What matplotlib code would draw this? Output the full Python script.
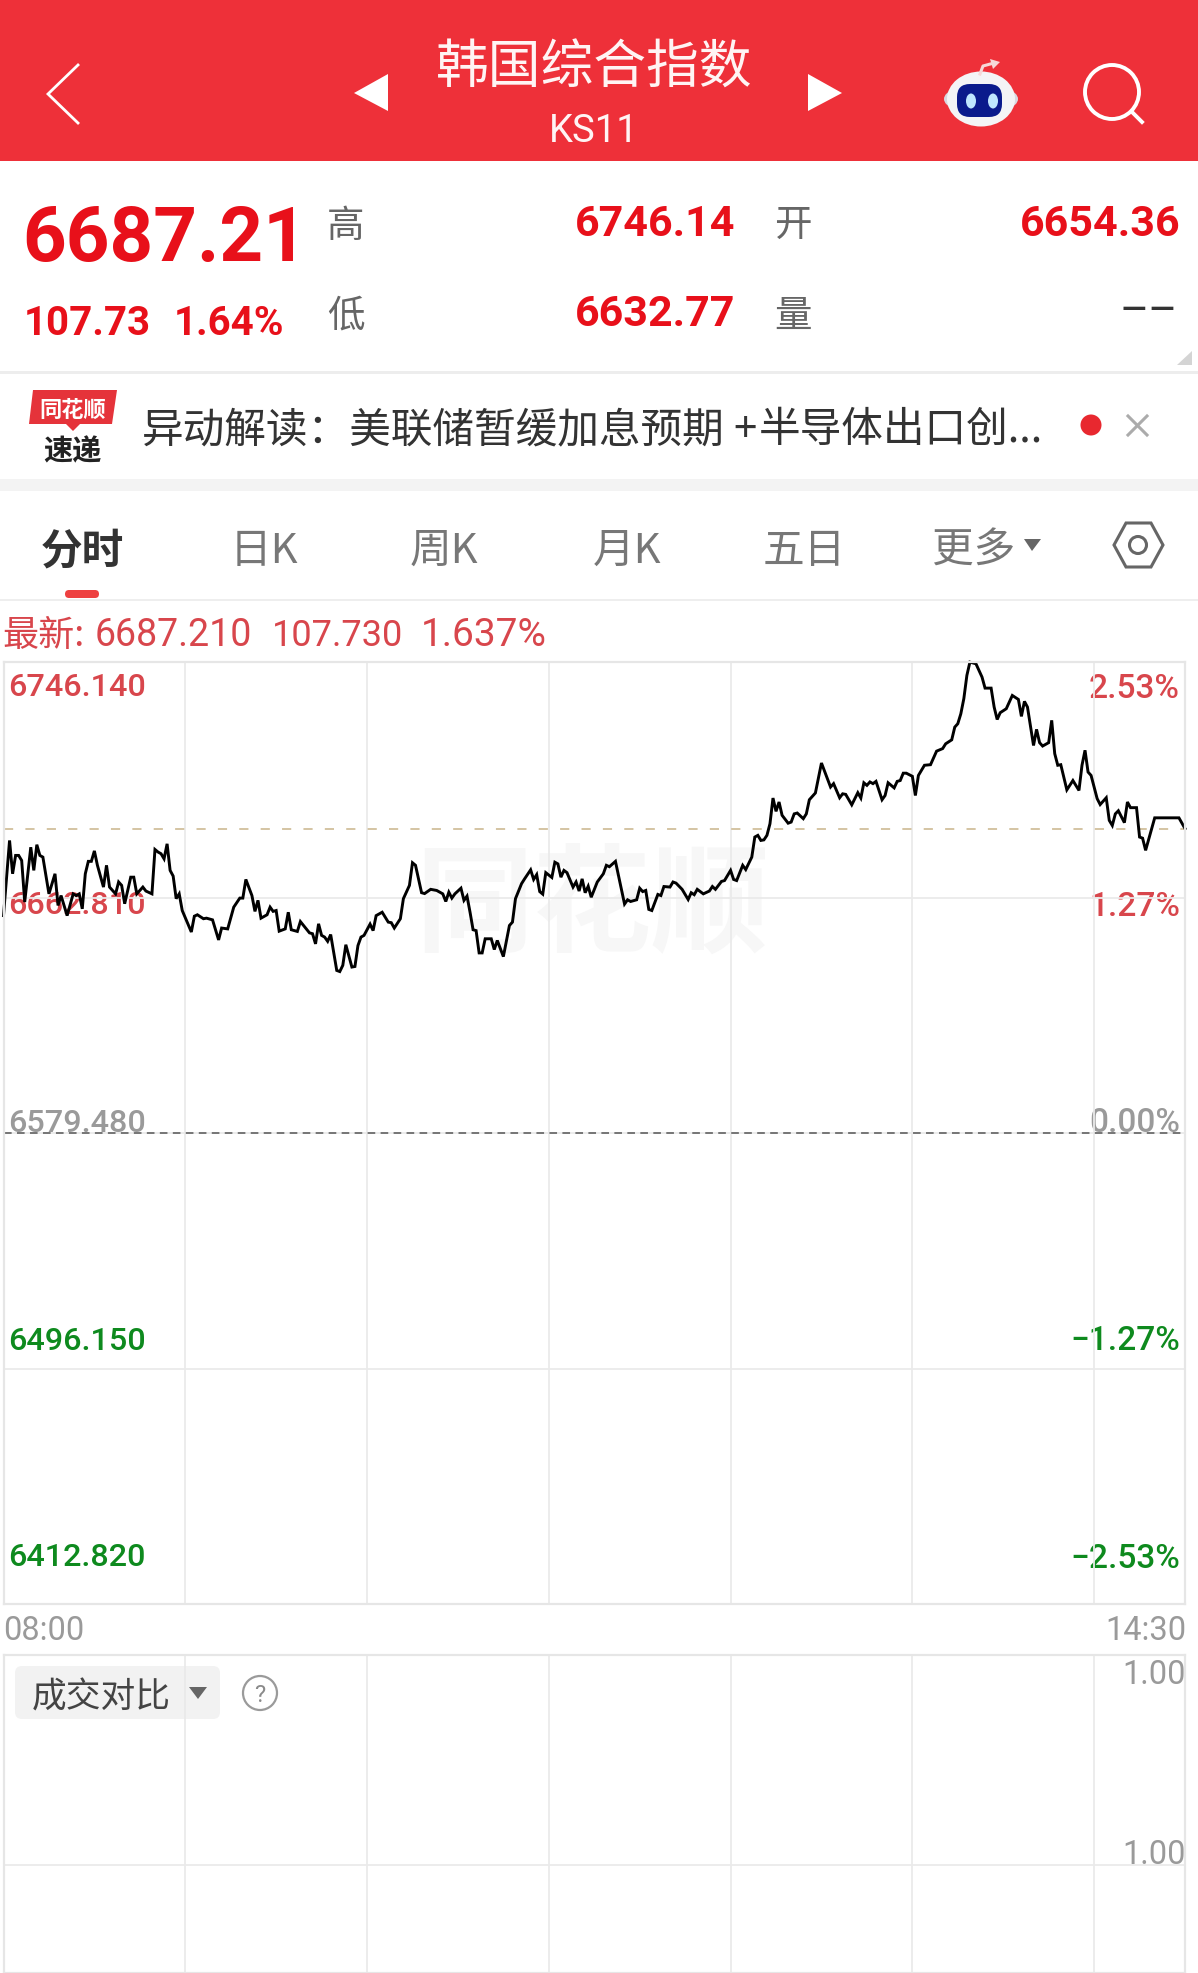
import matplotlib
matplotlib.use('Agg')
import matplotlib.pyplot as plt
from matplotlib.patches import Circle, Ellipse, FancyBboxPatch, Polygon, Rectangle

W, H = 1198, 1974
CJK = ['Noto Sans CJK SC', 'DejaVu Sans']
NUM = ['Roboto', 'Noto Sans CJK SC']

# intraday index, minutes after 08:00 and price
minutes = [
    0, 2, 3, 4, 5, 6, 7, 9, 10, 11, 12, 13, 15, 17, 18, 19, 21, 23, 24, 25, 26, 27, 28, 29, 30, 31,
    33, 34, 35, 37, 38, 39, 40, 42, 43, 44, 46, 47, 49, 50, 51, 52, 53, 54, 55, 56, 57, 58, 59, 62,
    63, 64, 66, 67, 69, 71, 72, 74, 76, 78, 79, 80, 82, 83, 84, 85, 87, 88, 89, 90, 91, 93, 94, 95,
    97, 98, 101, 102, 103, 104, 105, 106, 107, 108, 110, 111, 112, 113, 115, 116, 117, 118, 119,
    121, 122, 123, 125, 127, 128, 129, 131, 132, 134, 135, 136, 138, 139, 141, 143, 145, 146, 147,
    148, 149, 151, 152, 153, 154, 155, 156, 157, 158, 159, 161, 162, 163, 165, 167, 168, 169, 171,
    172, 174, 175, 176, 177, 178, 179, 181, 182, 183, 184, 185, 186, 188, 189, 190, 191, 192, 193,
    194, 196, 198, 199, 200, 202, 205, 206, 207, 209, 210, 211, 212, 213, 214, 216, 217, 218, 220,
    221, 222, 224, 226, 227, 228, 229, 231, 233, 234, 235, 237, 238, 240, 241, 242, 244, 245, 247,
    248, 249, 250, 251, 252, 253, 254, 255, 256, 257, 259, 260, 261, 262, 264, 265, 266, 268, 270,
    273, 274, 276, 277, 278, 280, 282, 283, 284, 285, 286, 287, 288, 290, 291, 292, 294, 295, 296,
    297, 298, 300, 301, 302, 304, 306, 308, 310, 311, 313, 314, 315, 316, 317, 318, 319, 321, 323,
    324, 326, 327, 328, 329, 331, 333, 335, 336, 337, 338, 340, 341, 342, 343, 345, 346, 347, 348,
    349, 351, 353, 355, 356, 357, 358, 359, 361, 362, 364, 365, 366, 367, 368, 370, 371, 372, 374,
    375, 376, 377, 380, 388, 390,
]
prices = [
    6656.4, 6683.0, 6671.2, 6677.7, 6677.7, 6675.9, 6661.2, 6680.6, 6672.4, 6681.5, 6677.7, 6677.1,
    6664.1, 6671.2, 6660.0, 6663.5, 6656.4, 6664.1, 6663.5, 6664.1, 6658.8, 6671.2, 6675.6, 6675.6,
    6679.3, 6674.2, 6666.5, 6674.2, 6666.5, 6664.1, 6668.3, 6667.1, 6660.6, 6670.0, 6670.0, 6664.1,
    6666.5, 6665.1, 6664.1, 6679.8, 6678.9, 6678.3, 6676.5, 6681.8, 6672.4, 6670.4, 6662.4, 6664.1,
    6658.2, 6650.6, 6656.2, 6656.7, 6655.3, 6655.5, 6654.9, 6647.8, 6652.0, 6651.7, 6659.4, 6662.6,
    6662.6, 6669.2, 6663.5, 6657.9, 6661.8, 6655.5, 6656.7, 6659.4, 6657.9, 6658.2, 6650.9, 6651.7,
    6657.6, 6651.4, 6650.8, 6654.3, 6650.3, 6650.0, 6646.4, 6653.5, 6649.4, 6648.8, 6647.3, 6649.7,
    6637.0, 6636.6, 6638.8, 6646.1, 6638.2, 6638.4, 6645.8, 6648.8, 6649.4, 6653.4, 6651.1, 6656.4,
    6657.6, 6654.1, 6653.9, 6652.0, 6655.3, 6662.4, 6667.1, 6675.1, 6674.2, 6664.5, 6664.2, 6665.7,
    6665.3, 6664.1, 6661.4, 6664.7, 6662.6, 6664.1, 6666.1, 6661.8, 6663.3, 6657.6, 6651.4, 6651.1,
    6643.2, 6643.2, 6648.2, 6648.2, 6644.4, 6647.6, 6641.9, 6652.9, 6654.1, 6662.4, 6667.7, 6669.4,
    6672.6, 6669.2, 6670.9, 6664.9, 6664.0, 6671.6, 6669.9, 6675.3, 6674.7, 6670.0, 6672.4, 6671.6,
    6666.5, 6668.3, 6665.1, 6669.4, 6664.5, 6666.8, 6662.9, 6668.3, 6671.2, 6674.2, 6673.7, 6675.6,
    6660.5, 6662.0, 6661.4, 6662.0, 6666.1, 6664.9, 6665.3, 6658.6, 6658.2, 6663.9, 6663.5, 6666.7,
    6666.5, 6668.3, 6667.9, 6665.7, 6662.1, 6664.5, 6663.8, 6665.7, 6664.1, 6665.1, 6666.7, 6665.7,
    6668.5, 6668.8, 6672.4, 6669.2, 6668.8, 6674.2, 6672.7, 6677.1, 6684.2, 6684.8, 6683.0, 6683.2,
    6684.8, 6688.9, 6698.0, 6693.3, 6696.6, 6691.9, 6689.1, 6689.5, 6692.4, 6692.7, 6690.7, 6692.4,
    6697.4, 6699.8, 6710.4, 6701.9, 6703.1, 6698.1, 6699.5, 6699.3, 6695.6, 6699.9, 6698.0, 6703.4,
    6702.5, 6703.7, 6703.1, 6703.9, 6697.4, 6698.9, 6703.4, 6701.6, 6703.9, 6704.2, 6706.8, 6706.8,
    6705.7, 6698.9, 6706.0, 6709.6, 6709.8, 6714.6, 6715.5, 6717.2, 6718.6, 6723.1, 6724.3, 6727.8,
    6733.2, 6741.4, 6746.1, 6745.5, 6740.8, 6736.9, 6736.9, 6730.2, 6725.8, 6728.2, 6729.6, 6734.3,
    6732.9, 6726.9, 6732.2, 6730.2, 6716.6, 6722.3, 6717.6, 6716.4, 6717.6, 6725.5, 6713.7, 6709.6,
    6709.8, 6700.9, 6704.2, 6700.7, 6709.6, 6714.9, 6707.2, 6706.0, 6697.8, 6695.7, 6698.1, 6690.1,
    6688.3, 6692.4, 6693.5, 6689.3, 6696.6, 6694.6, 6694.6, 6684.2, 6683.8, 6679.5, 6691.0, 6691.0,
    6687.2,
]

price_levels = [6746.14, 6662.81, 6579.48, 6496.15, 6412.82]
price_labels = ['6746.140', '6662.810', '6579.480', '6496.150', '6412.820']
pct_labels = ['2.53%', '1.27%', '0.00%', '\u22121.27%', '\u22122.53%']
level_colors = ['#D8464C', '#D8464C', '#9A9A9A', '#0E8A1E', '#0E8A1E']
level_y = [685, 903, 1120, 1338, 1555]
latest = 6687.21
prev_close = 6579.48
tabs = ['日K', '周K', '月K', '五日', '更多']
tab_x = [264, 444, 627, 804, 974]

RED = '#EE3039'
PRICE_RED = '#E8101A'
GRID = '#EAEAEA'

fig = plt.figure(figsize=(W / 100, H / 100), dpi=100, facecolor='white')
ui = fig.add_axes([0, 0, 1, 1], zorder=0)
ui.set_xlim(0, W)
ui.set_ylim(H, 0)
ui.axis('off')


def label(x, y, s, size, color, ha='center', family=CJK, weight='normal', **kw):
    ui.text(x, y, s, fontsize=size, color=color, ha=ha, va='center_baseline',
            family=family, fontweight=weight, **kw)


def rect(x0, y0, x1, y1, color):
    ui.add_patch(Rectangle((x0, y0), x1 - x0, y1 - y0, color=color, lw=0))


def rounded(x0, y0, x1, y1, r, color):
    ui.add_patch(FancyBboxPatch((x0, y0), x1 - x0, y1 - y0, facecolor=color, lw=0,
                                boxstyle='round,pad=0,rounding_size=%s' % r))


# title bar
rect(0, 0, W, 162, RED)
ui.plot([78, 48, 78], [66, 95, 124], color='white', lw=2, solid_joinstyle='miter')
ui.add_patch(Polygon([(388, 75), (354, 94), (388, 112)], color='white', lw=0))
ui.add_patch(Polygon([(808, 75), (842, 94), (808, 112)], color='white', lw=0))
label(594, 62, '韩国综合指数', 38, '#FFF4F4')
label(594, 128, 'KS11', 27.5, '#FFF4F4', family=NUM)

# robot button
ui.plot([980, 983, 994], [75, 67, 64], color='#F6D8D8', lw=2.2)
ui.add_patch(Polygon([(990, 60), (1000, 63), (993, 70)], color='#F6D8D8', lw=0))
ui.add_patch(Ellipse((981, 100), 74, 30, color='#D8D8E0', lw=0))
ui.add_patch(Ellipse((981, 100), 68, 55, color='#F4F4F6', lw=0))
rounded(957, 85, 1002, 118, 13, '#0A1A8C')
ui.add_patch(Ellipse((971, 102), 10, 15, color='#BFE6FF', lw=0))
ui.add_patch(Ellipse((993, 102), 10, 15, color='#BFE6FF', lw=0))

# search button
ui.add_patch(Circle((1112, 93), 27, fill=False, ec='white', lw=2.8))
ui.plot([1132, 1142], [113, 123], color='white', lw=2.8)

# quote block
label(22, 232, '6687.21', 55, PRICE_RED, ha='left', family=NUM, weight='bold')
label(24, 320, '107.73', 29, PRICE_RED, ha='left', family=NUM, weight='bold')
label(174, 320, '1.64%', 29, PRICE_RED, ha='left', family=NUM, weight='bold')
label(346, 222, '高', 27, '#666666')
label(346, 312, '低', 27, '#666666')
label(793, 221, '开', 27, '#666666')
label(793, 312, '量', 27, '#666666')
label(575, 220, '6746.14', 31, PRICE_RED, ha='left', family=NUM, weight='bold')
label(575, 310, '6632.77', 31, PRICE_RED, ha='left', family=NUM, weight='bold')
label(1180, 220, '6654.36', 31, PRICE_RED, ha='right', family=NUM, weight='bold')
label(1178, 308, '\u2013\u2013', 32, '#333333', ha='right', family=NUM)
ui.add_patch(Polygon([(1192, 352), (1192, 366), (1177, 366)], color='#D4D4D4', lw=0))
rect(0, 372, W, 375, '#EDEDED')

# news row
ui.add_patch(Polygon([(33, 391), (117, 391), (112, 425), (80, 425), (73, 432), (66, 425), (29, 425)],
                     color='#E5333A', lw=0))
label(73, 408, '同花顺', 16, 'white', weight='bold')
label(72, 448, '速递', 21, '#222222', weight='bold')
label(142, 426, '异动解读：美联储暂缓加息预期', 30, '#333333', ha='left')
label(745, 426, '+', 30, '#333333')
label(759, 426, '半导体出口创...', 30, '#333333', ha='left')
ui.add_patch(Circle((1091, 426), 10.5, color='#E8282F', lw=0))
ui.plot([1128, 1147], [417, 436], color='#ABABAB', lw=2.2)
ui.plot([1128, 1147], [436, 417], color='#ABABAB', lw=2.2)
rect(0, 480, W, 492, '#F3F3F3')

# tabs
label(82, 547, '分时', 30, '#333333', weight='bold')
for tx, t in zip(tab_x, tabs):
    label(tx, 547, t, 30, '#777777')
ui.add_patch(Polygon([(1024, 540), (1041, 540), (1032, 552)], color='#666666', lw=0))
ui.add_patch(Polygon([(1114, 546), (1126, 524), (1151, 524), (1163, 546), (1151, 568), (1126, 568)],
                     fill=False, ec='#666666', lw=2.2))
ui.add_patch(Circle((1138, 546), 8.5, fill=False, ec='#666666', lw=2.2))
rounded(65, 591, 99, 599, 4, '#EE4040')
rect(0, 600, W, 602, '#EEEEEE')

# latest line
label(2, 632, '最新:', 26, '#D8464C', ha='left')
label(95, 632, '6687.210', 27, '#D8464C', ha='left', family=NUM)
label(272, 632, '107.730', 26, '#D8464C', ha='left', family=NUM)
label(421, 632, '1.637%', 28, '#D8464C', ha='left', family=NUM)

# watermark and axis labels sit under the line
label(592, 896, '同花顺', 85, '#F7F7F7', weight='bold')
for y, p, q, c in zip(level_y, price_labels, pct_labels, level_colors):
    label(8, y, p, 23.3, c, ha='left', family=NUM, weight=500)
    label(1180, y, q, 24, c, ha='right', family=NUM, weight=500)
label(3, 1628, '08:00', 23.5, '#9A9A9A', ha='left', family=NUM)
label(1186, 1628, '14:30', 23.5, '#9A9A9A', ha='right', family=NUM)

# price panel
ax = fig.add_axes([3.5 / W, 1 - 1605 / H, (1185 - 3.5) / W, (1605 - 663) / H], zorder=1)
ax.patch.set_alpha(0)
ax.set_xlim(0, 390)
ax.set_ylim(price_levels[-1], price_levels[0])
ax.set_xticks(range(60, 390, 60))
ax.set_yticks(price_levels[1:-1])
ax.grid(True, color=GRID, lw=1.3)
ax.tick_params(length=0, labelleft=False, labelbottom=False)
for s in ax.spines.values():
    s.set_color('#E6E6E6')
    s.set_linewidth(1.6)
ax.axhline(latest, color='#C9B48A', lw=1.1, dashes=(6, 8))
ax.axhline(prev_close, color='#555555', lw=1.1, dashes=(5, 3.5))
ax.plot(minutes, prices, color='black', lw=2.1, clip_on=False, solid_joinstyle='miter')

# volume panel
vol = fig.add_axes([3.5 / W, 0, (1185 - 3.5) / W, 1 - 1656 / H], zorder=1)
vol.patch.set_alpha(0)
vol.set_xlim(0, 390)
vol.set_ylim(0, 1.0)
vol.set_xticks(range(60, 390, 60))
vol.set_yticks([(1974 - 1866) / (1974 - 1656)])
vol.grid(True, color=GRID, lw=1.3)
vol.tick_params(length=0, labelleft=False, labelbottom=False)
for s in vol.spines.values():
    s.set_color('#E6E6E6')
    s.set_linewidth(1.6)
rounded(15, 1667, 220, 1720, 7, '#F2F2F2')
label(101, 1694, '成交对比', 25, '#444444')
ui.add_patch(Polygon([(189, 1688), (207, 1688), (198, 1700)], color='#666666', lw=0))
ui.add_patch(Circle((260, 1694), 17, fill=False, ec='#9A9A9A', lw=1.6))
label(260, 1693, '?', 17, '#8A8A8A', family=NUM)
label(1186, 1671, '1.00', 23.5, '#9A9A9A', ha='right', family=NUM)
label(1186, 1851, '1.00', 23.5, '#9A9A9A', ha='right', family=NUM)

fig.savefig('out.png', dpi=100)
